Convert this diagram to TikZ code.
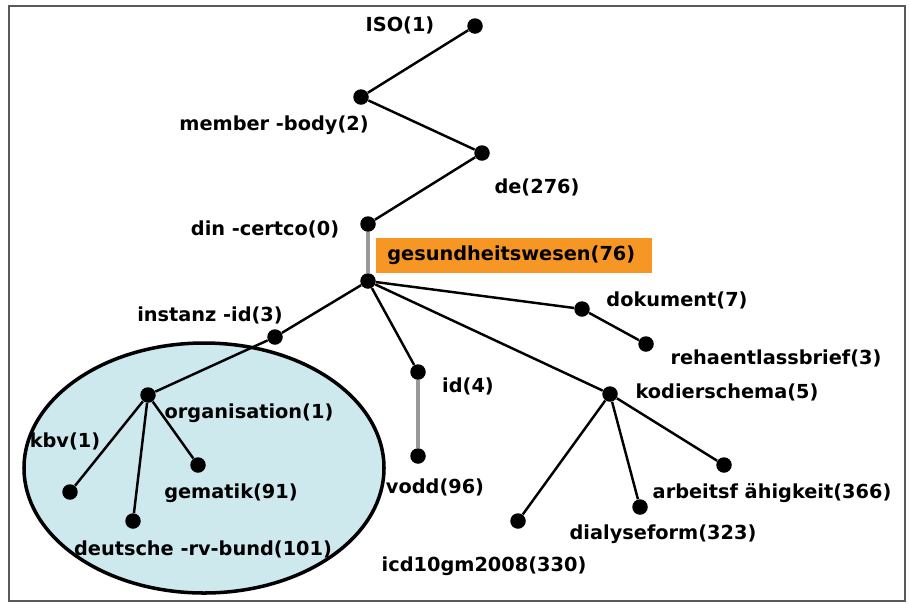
\documentclass[tikz,border=0pt]{standalone}
\usepackage{fontspec}
\setmainfont{DejaVu Sans}
\usepackage{tikz}
\usetikzlibrary{positioning}
\definecolor{ovalfill}{RGB}{205,233,237}
\definecolor{boxorange}{RGB}{246,150,36}

\begin{document}
\begin{tikzpicture}[x=0.02cm, y=-0.02cm,
    oid/.style={circle, fill=black, inner sep=0pt, minimum size=0.31cm},
    lbl/.style={font=\bfseries\fontsize{11}{13}\selectfont, inner sep=1pt},
    arc/.style={line width=1.4pt, black},
    greyarc/.style={line width=2pt, gray!80}]
            \useasboundingbox (0,0) rectangle (909,603);
            % Frame
            \draw[gray!70!black, line width=1.2pt] (9,6) rectangle (905,601);

            % Oval round organisation
            \draw[fill=ovalfill, line width=2pt] (204,468) ellipse [x radius=180, y radius=125];

            % Highlight box
            \node[lbl, fill=boxorange, anchor=west, text width=5.08cm, align=left,
                  inner xsep=0.22cm, minimum height=0.7cm] (gesundL) at (376,255.5) {gesundheitswesen(76)};

            % Tree points
            \node[oid] (iso) at (475,26) {};
            \node[oid] (member) at (361,97) {};
            \node[oid] (de) at (482,153) {};
            \node[oid] (din) at (368,224) {};
            \node[oid] (gesund) at (368,281) {};
            \node[oid] (dokument) at (582,309) {};
            \node[oid] (reha) at (646,344) {};
            \node[oid] (kodier) at (610,394) {};
            \node[oid] (id) at (418,372) {};
            \node[oid] (vodd) at (418,456) {};
            \node[oid] (instanz) at (275,337) {};
            \node[oid] (orga) at (148,395) {};
            \node[oid] (kbv) at (70,492) {};
            \node[oid] (drv) at (133,521) {};
            \node[oid] (gematik) at (198,465) {};
            \node[oid] (icd) at (518,521) {};
            \node[oid] (dialyse) at (640,507) {};
            \node[oid] (arbeit) at (724,465) {};

            % Branches
            \draw[arc] (iso) -- (member) -- (de) -- (din);
            \draw[greyarc] (din) -- (gesund);
            \draw[arc] (gesund) -- (dokument) -- (reha);
            \draw[arc] (gesund) -- (kodier);
            \draw[arc] (gesund) -- (id);
            \draw[greyarc] (id) -- (vodd);
            \draw[arc] (gesund) -- (instanz) -- (orga);
            \draw[arc] (orga) -- (kbv);
            \draw[arc] (orga) -- (drv);
            \draw[arc] (orga) -- (gematik);
            \draw[arc] (kodier) -- (icd);
            \draw[arc] (kodier) -- (dialyse);
            \draw[arc] (kodier) -- (arbeit);

            % Labels
            \node[lbl] (isoL) at (400,25) {ISO(1)};
            \node[lbl] (memberL) at (274,125) {member -body(2)};
            \node[lbl] (deL) at (537,187) {de(276)};
            \node[lbl] (dinL) at (265,229) {din -certco(0)};
            \node[lbl] (dokumentL) at (677,300) {dokument(7)};
            \node[lbl] (rehaL) at (776,358) {rehaentlassbrief(3)};
            \node[lbl] (kodierL) at (727,392) {kodierschema(5)};
            \node[lbl] (idL) at (468,386) {id(4)};
            \node[lbl] (voddL) at (435,487) {vodd(96)};
            \node[lbl] (instanzL) at (210,315) {instanz -id(3)};
            \node[lbl] (orgaL) at (249,413) {organisation(1)};
            \node[lbl] (kbvL) at (65,441) {kbv(1)};
            \node[lbl] (drvL) at (203,549) {deutsche -rv-bund(101)};
            \node[lbl] (gematikL) at (231,493) {gematik(91)};
            \node[lbl] (icdL) at (484,566) {icd10gm2008(330)};
            \node[lbl] (dialyseL) at (663,534) {dialyseform(323)};
            \node[lbl] (arbeitL) at (772,493) {arbeitsf ähigkeit(366)};

        \end{tikzpicture}
\end{document}
